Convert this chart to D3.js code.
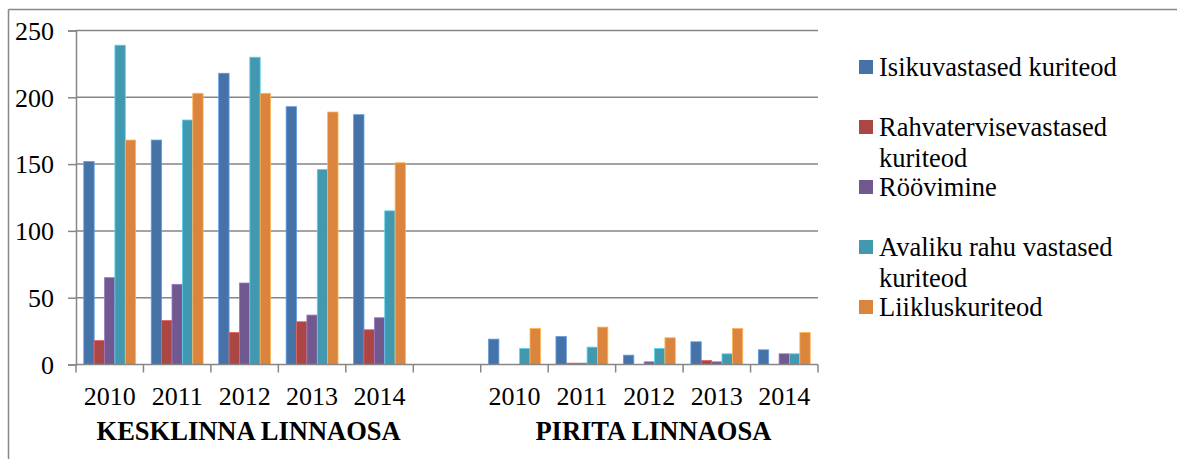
<!DOCTYPE html>
<html>
<head>
<meta charset="utf-8">
<script src="https://cdn.jsdelivr.net/npm/d3@7"></script>
<style>
  body { margin: 0; background: #fff; }
  text { font-family: "Liberation Serif", "Times New Roman", serif; fill: #000; }
</style>
</head>
<body>
<svg width="1177" height="459"></svg>
<script>
// categories (empty slot separates the two districts)
var years = ["2010", "2011", "2012", "2013", "2014", "", "2010", "2011", "2012", "2013", "2014"];
var districts = ["KESKLINNA LINNAOSA", "PIRITA LINNAOSA"];
var seriesNames = ["Isikuvastased kuriteod", "Rahvatervisevastased kuriteod", "Röövimine",
                   "Avaliku rahu vastased kuriteod", "Liikluskuriteod"];

var isikuvastased = [152, 168, 218, 193, 187, null, 19, 21, 7, 17, 11];
var rahvatervise  = [18, 33, 24, 32, 26, null, 0, 1, 0, 3, 0];
var roovimine     = [65, 60, 61, 37, 35, null, 0, 1, 2, 2, 8];
var avalikuRahu   = [239, 183, 230, 146, 115, null, 12, 13, 12, 8, 8];
var liiklus       = [168, 203, 203, 189, 151, null, 27, 28, 20, 27, 24];

var yTicks = [0, 50, 100, 150, 200, 250];

var series = [isikuvastased, rahvatervise, roovimine, avalikuRahu, liiklus];
var colors = ["#4572A7", "#AA4643", "#71588F", "#4198AF", "#DB843D"];

var svg = d3.select("svg");

// outer chart frame (top + left only visible)
svg.append("line").attr("x1", 8.5).attr("x2", 1177).attr("y1", 9.5).attr("y2", 9.5)
    .attr("stroke", "#878787").attr("stroke-width", 1.5);
svg.append("line").attr("x1", 8.5).attr("x2", 8.5).attr("y1", 9.5).attr("y2", 459)
    .attr("stroke", "#878787").attr("stroke-width", 1.5);

var plotLeft = 76, plotRight = 818, plotTop = 30.5, plotBottom = 364.5;

var x = d3.scaleBand()
    .domain(d3.range(years.length))
    .range([plotLeft, plotRight]);

var inner = d3.scaleBand()
    .domain(d3.range(series.length))
    .range([0, x.bandwidth()])
    .paddingInner(0)
    .paddingOuter(0.75);

var y = d3.scaleLinear()
    .domain([0, 250])
    .range([plotBottom, plotTop]);

// gridlines
svg.append("g")
  .selectAll("line")
  .data(yTicks.slice(1))
  .enter().append("line")
    .attr("x1", plotLeft).attr("x2", plotRight)
    .attr("y1", function(d) { return y(d); })
    .attr("y2", function(d) { return y(d); })
    .attr("stroke", "#868686")
    .attr("stroke-width", 1.5);

// bars
var sg = svg.append("g").selectAll("g")
  .data(series)
  .enter().append("g")
    .attr("fill", function(d, i) { return colors[i]; })
    .attr("stroke", function(d, i) { return d3.rgb(colors[i]).brighter(0.9); })
    .attr("stroke-width", 0.8);

sg.selectAll("rect")
  .data(function(d, i) { return d.map(function(v, j) { return {v: v, s: i, c: j}; }); })
  .enter().filter(function(d) { return d.v; })
  .append("rect")
    .attr("x", function(d) { return x(d.c) + inner(d.s); })
    .attr("width", inner.bandwidth())
    .attr("y", function(d) { return y(d.v); })
    .attr("height", function(d) { return y(0) - y(d.v); });

// y axis
var yAxis = svg.append("g")
    .attr("transform", "translate(" + plotLeft + ",0)")
    .call(d3.axisLeft(y).tickValues(yTicks).tickSize(8).tickPadding(14));
yAxis.select(".domain").attr("stroke", "#868686").attr("stroke-width", 1.5);
yAxis.selectAll(".tick line").attr("stroke", "#868686").attr("stroke-width", 1.5);
yAxis.selectAll(".tick text")
    .attr("dy", "0.34em")
    .attr("fill", "#000")
    .style("font-size", "26px")
    .style("font-family", "Liberation Serif, serif");

// x axis
var xAxis = svg.append("g")
    .attr("transform", "translate(0," + plotBottom + ")");
xAxis.append("line")
    .attr("x1", plotLeft).attr("x2", plotRight)
    .attr("stroke", "#868686").attr("stroke-width", 1.5);
xAxis.selectAll(".xt")
  .data(d3.range(years.length + 1))
  .enter().append("line")
    .attr("class", "xt")
    .attr("x1", function(d) { return plotLeft + d * x.step(); })
    .attr("x2", function(d) { return plotLeft + d * x.step(); })
    .attr("y1", 0).attr("y2", 8)
    .attr("stroke", "#868686").attr("stroke-width", 1.5);
xAxis.selectAll(".xl")
  .data(years)
  .enter().append("text")
    .attr("class", "xl")
    .attr("x", function(d, i) { return x(i) + x.bandwidth() / 2; })
    .attr("y", 40)
    .attr("text-anchor", "middle")
    .style("font-size", "26px")
    .text(function(d) { return d; });

// district labels
svg.selectAll(".dl")
  .data(districts)
  .enter().append("text")
    .attr("class", "dl")
    .attr("x", function(d, i) { return x(i * 6) + 2.5 * x.step() + 4; })
    .attr("y", 440)
    .attr("text-anchor", "middle")
    .style("font-size", "26.5px")
    .style("font-weight", "bold")
    .text(function(d) { return d; });

// legend
var legendLines = [["Isikuvastased kuriteod"], ["Rahvatervisevastased", "kuriteod"], ["Röövimine"],
                   ["Avaliku rahu vastased", "kuriteod"], ["Liikluskuriteod"]];
var lg = svg.append("g").selectAll("g")
  .data(seriesNames)
  .enter().append("g")
    .attr("transform", function(d, i) { return "translate(859," + (76 + i * 60) + ")"; });
lg.append("rect")
    .attr("y", -16).attr("width", 14).attr("height", 14)
    .attr("fill", function(d, i) { return colors[i]; });
lg.append("text")
    .attr("x", 20)
    .style("font-size", "26.5px")
  .selectAll("tspan")
  .data(function(d, i) { return legendLines[i]; })
  .enter().append("tspan")
    .attr("x", 20)
    .attr("dy", function(d, j) { return j ? 31 : 0; })
    .text(function(d) { return d; });
</script>
</body>
</html>
